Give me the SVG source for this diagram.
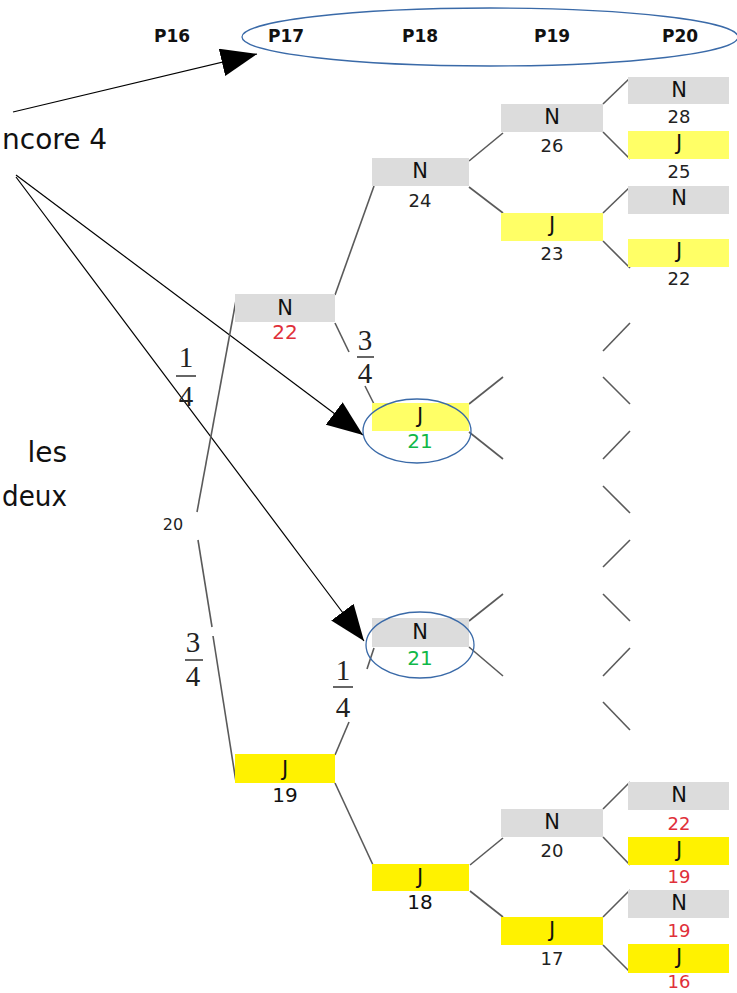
<svg xmlns="http://www.w3.org/2000/svg" width="737" height="993" viewBox="0 0 737 993">
<style>
.hdr{font-family:"DejaVu Sans",sans-serif;font-weight:bold;font-size:17px;fill:#111;text-anchor:middle}
.hand{font-family:"DejaVu Sans",sans-serif;font-size:28px;fill:#111}
.lt{font-family:"DejaVu Sans",sans-serif;font-size:21px;fill:#111;text-anchor:middle}
.num{font-family:"DejaVu Sans",sans-serif;font-size:18px;fill:#222;text-anchor:middle}
.big{font-size:20px;fill:#111}
.red{fill:#e0303a}
.green{fill:#10b848}
.gray{fill:#dcdcdc}
.yl{fill:#ffff66}
.yb{fill:#fff200}
.br{stroke:#5a5a5a;stroke-width:1.6;fill:none}
.frac{font-family:"Liberation Serif",serif;font-size:29px;fill:#222;text-anchor:middle}
.bar{stroke:#333;stroke-width:1.5}
.circ{fill:none;stroke:#3a6aa8;stroke-width:1.3}
.ar{stroke:#000;stroke-width:1.2;fill:none}
</style>
<defs>
<marker id="ah" markerUnits="userSpaceOnUse" markerWidth="38" markerHeight="28" refX="36" refY="14" orient="auto">
<path d="M0,0 L36,14 L0,28 z" fill="#000"/>
</marker>
</defs>
<rect width="737" height="993" fill="#fff"/>

<g id="header">
<text class="hdr" x="172" y="42">P16</text>
<text class="hdr" x="286" y="42">P17</text>
<text class="hdr" x="420" y="42">P18</text>
<text class="hdr" x="552" y="42">P19</text>
<text class="hdr" x="680" y="42">P20</text>
<ellipse class="circ" cx="490" cy="37" rx="248" ry="29"/>
</g>

<g id="notes">
<text class="hand" x="2" y="149">ncore 4</text>
<text class="hand" x="67" y="462" text-anchor="end">les</text>
<text class="hand" x="2" y="506" textLength="65" lengthAdjust="spacingAndGlyphs">deux</text>
</g>

<g id="connectors">
<line class="ar" x1="13" y1="112" x2="257" y2="54" marker-end="url(#ah)"/>
<line class="ar" x1="16" y1="175" x2="363" y2="435" marker-end="url(#ah)"/>
<line class="ar" x1="16" y1="177" x2="364" y2="641" marker-end="url(#ah)"/>

<line class="br" x1="197" y1="512" x2="237" y2="295"/>
<line class="br" x1="198" y1="540" x2="212" y2="627"/>
<line class="br" x1="213" y1="636" x2="236" y2="782"/>
<line class="br" x1="335" y1="295" x2="374" y2="186"/>
<line class="br" x1="335" y1="323" x2="349" y2="352"/>
<line class="br" x1="365" y1="386" x2="374" y2="404"/>
<line class="br" x1="335" y1="755" x2="349" y2="722"/>
<line class="br" x1="367" y1="669" x2="374" y2="648"/>
<line class="br" x1="335" y1="783" x2="373" y2="865"/>

<line class="br" x1="469" y1="161" x2="503" y2="133"/>
<line class="br" x1="469" y1="187" x2="503" y2="213"/>
<line class="br" x1="469" y1="404" x2="503" y2="377"/>
<line class="br" x1="469" y1="432" x2="503" y2="459"/>
<line class="br" x1="469" y1="621" x2="503" y2="594"/>
<line class="br" x1="469" y1="647" x2="503" y2="676"/>
<line class="br" x1="470" y1="865" x2="503" y2="838"/>
<line class="br" x1="470" y1="891" x2="503" y2="917"/>

<line class="br" x1="603" y1="104" x2="630" y2="78"/>
<line class="br" x1="603" y1="132" x2="630" y2="159"/>
<line class="br" x1="603" y1="213" x2="630" y2="187"/>
<line class="br" x1="603" y1="241" x2="630" y2="268"/>
<line class="br" x1="603" y1="351" x2="630" y2="323"/>
<line class="br" x1="603" y1="377" x2="630" y2="404"/>
<line class="br" x1="603" y1="459" x2="630" y2="431"/>
<line class="br" x1="603" y1="486" x2="630" y2="513"/>
<line class="br" x1="603" y1="567" x2="630" y2="540"/>
<line class="br" x1="603" y1="594" x2="630" y2="621"/>
<line class="br" x1="603" y1="676" x2="630" y2="648"/>
<line class="br" x1="603" y1="702" x2="630" y2="730"/>
<line class="br" x1="603" y1="809" x2="630" y2="782"/>
<line class="br" x1="603" y1="837" x2="630" y2="865"/>
<line class="br" x1="603" y1="917" x2="630" y2="890"/>
<line class="br" x1="603" y1="945" x2="630" y2="972"/>
</g>

<g id="fractions">
<text class="frac" x="186" y="367">1</text><line class="bar" x1="176" y1="376" x2="196" y2="376"/><text class="frac" x="186" y="406">4</text>
<text class="frac" x="193" y="652">3</text><line class="bar" x1="185" y1="660" x2="203" y2="660"/><text class="frac" x="193" y="686">4</text>
<text class="frac" x="365" y="350">3</text><line class="bar" x1="357" y1="357" x2="374" y2="357"/><text class="frac" x="365" y="383">4</text>
<text class="frac" x="343" y="680">1</text><line class="bar" x1="333" y1="687" x2="353" y2="687"/><text class="frac" x="343" y="717">4</text>
</g>

<g id="root"><text class="num" x="173" y="530" style="font-size:16px">20</text></g>

<g id="n22"><rect class="gray" x="235" y="294" width="100" height="28"/><text class="lt" x="285" y="315">N</text><text class="num big red" x="285" y="339">22</text></g>
<g id="j19"><rect class="yb" x="235" y="754" width="100" height="29"/><text class="lt" x="285" y="776">J</text><text class="num big" x="285" y="802">19</text></g>

<g id="n24"><rect class="gray" x="372" y="158" width="97" height="28"/><text class="lt" x="420" y="178">N</text><text class="num" x="420" y="207">24</text></g>
<g id="j21"><rect class="yl" x="372" y="403" width="97" height="28"/><text class="lt" x="420" y="423">J</text><text class="num big green" x="420" y="448">21</text><ellipse class="circ" cx="417" cy="431" rx="54" ry="32"/></g>
<g id="n21"><rect class="gray" x="372" y="618" width="97" height="29"/><text class="lt" x="420" y="639">N</text><text class="num big green" x="420" y="665">21</text><ellipse class="circ" cx="420" cy="645" rx="54" ry="33"/></g>
<g id="j18"><rect class="yb" x="372" y="864" width="97" height="27"/><text class="lt" x="420" y="884">J</text><text class="num big" x="420" y="909">18</text></g>

<g id="n26"><rect class="gray" x="501" y="104" width="102" height="28"/><text class="lt" x="552" y="124">N</text><text class="num" x="552" y="152">26</text></g>
<g id="j23"><rect class="yl" x="501" y="213" width="102" height="28"/><text class="lt" x="552" y="232">J</text><text class="num" x="552" y="260">23</text></g>
<g id="n20"><rect class="gray" x="501" y="809" width="102" height="28"/><text class="lt" x="552" y="829">N</text><text class="num" x="552" y="857">20</text></g>
<g id="j17"><rect class="yb" x="501" y="917" width="102" height="28"/><text class="lt" x="552" y="937">J</text><text class="num" x="552" y="965">17</text></g>

<g id="n28"><rect class="gray" x="628" y="77" width="101" height="27"/><text class="lt" x="679" y="97">N</text><text class="num" x="679" y="123">28</text></g>
<g id="j25"><rect class="yl" x="628" y="131" width="101" height="28"/><text class="lt" x="679" y="150">J</text><text class="num" x="679" y="178">25</text></g>
<g id="n-p20"><rect class="gray" x="628" y="186" width="101" height="28"/><text class="lt" x="679" y="205">N</text></g>
<g id="j22"><rect class="yl" x="628" y="239" width="101" height="28"/><text class="lt" x="679" y="258">J</text><text class="num" x="679" y="285">22</text></g>

<g id="n22b"><rect class="gray" x="628" y="782" width="101" height="28"/><text class="lt" x="679" y="802">N</text><text class="num red" x="679" y="830">22</text></g>
<g id="j19b"><rect class="yb" x="628" y="837" width="101" height="28"/><text class="lt" x="679" y="857">J</text><text class="num red" x="679" y="883">19</text></g>
<g id="n19b"><rect class="gray" x="628" y="890" width="101" height="28"/><text class="lt" x="679" y="910">N</text><text class="num red" x="679" y="937">19</text></g>
<g id="j16b"><rect class="yb" x="628" y="944" width="101" height="29"/><text class="lt" x="679" y="964">J</text><text class="num red" x="679" y="988">16</text></g>
</svg>
